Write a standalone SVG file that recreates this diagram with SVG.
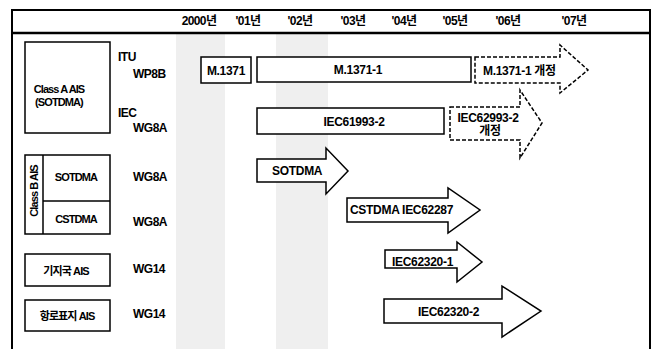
<svg xmlns="http://www.w3.org/2000/svg" width="654" height="349" viewBox="0 0 654 349">
<style>
  .frame{fill:none;stroke:#000;stroke-width:2}
  .box{fill:#fff;stroke:#000;stroke-width:1.5}
  .dash{fill:#fff;stroke:#000;stroke-width:1.5;stroke-dasharray:4 2}
  .band{fill:#efefef}
  text{font-family:"Liberation Sans","Noto Sans CJK KR",Arial,sans-serif;font-weight:bold;fill:#000}
  .yr{font-size:12px;text-anchor:middle;letter-spacing:-0.6px}
  .lb{font-size:12px;letter-spacing:-0.3px}
  .sm{font-size:11px;text-anchor:middle;letter-spacing:-0.9px}
  .wg{font-size:12px;letter-spacing:-0.5px}
  .mid{text-anchor:middle}
</style>
<rect x="0" y="0" width="654" height="349" fill="#fff"/>
<g id="bands">
  <rect class="band" x="176" y="34" width="49" height="315"/>
  <rect class="band" x="276" y="34" width="52" height="315"/>
</g>
<g id="frame">
  <path class="frame" d="M12,349 V10 H650 V349"/>
  <line x1="12" y1="33" x2="650" y2="33" stroke="#000" stroke-width="2.5"/>
</g>
<g id="header">
  <text class="yr" x="199" y="25">2000년</text>
  <text class="yr" x="248" y="25">'01년</text>
  <text class="yr" x="300" y="25">'02년</text>
  <text class="yr" x="353" y="25">'03년</text>
  <text class="yr" x="404" y="25">'04년</text>
  <text class="yr" x="455" y="25">'05년</text>
  <text class="yr" x="508" y="25">'06년</text>
  <text class="yr" x="574" y="25">'07년</text>
</g>
<g id="classA">
  <rect class="box" x="25" y="42" width="85" height="91"/>
  <text class="sm" x="59" y="93">Class A AIS</text>
  <text class="sm" x="59" y="106">(SOTDMA)</text>
</g>
<g id="classB">
  <rect class="box" x="25" y="155" width="85" height="79"/>
  <line x1="43" y1="155" x2="43" y2="234" stroke="#000" stroke-width="1.5"/>
  <line x1="43" y1="201" x2="110" y2="201" stroke="#000" stroke-width="1.5"/>
  <text class="sm" transform="translate(38,191) rotate(-90)">Class B AIS</text>
  <text class="sm" x="76" y="181">SOTDMA</text>
  <text class="sm" x="76" y="223">CSTDMA</text>
</g>
<g id="basestation">
  <rect class="box" x="25" y="254" width="85" height="32"/>
  <text class="sm" x="66" y="275">기지국 AIS</text>
</g>
<g id="aton">
  <rect class="box" x="25" y="300" width="85" height="31"/>
  <text class="sm" x="67" y="320">항로표지 AIS</text>
</g>
<g id="groups">
  <text class="wg" x="118" y="61">ITU</text>
  <text class="wg" x="133" y="78">WP8B</text>
  <text class="wg" x="118" y="117">IEC</text>
  <text class="wg" x="133" y="132">WG8A</text>
  <text class="wg" x="133" y="181">WG8A</text>
  <text class="wg" x="133" y="226">WG8A</text>
  <text class="wg" x="133" y="273">WG14</text>
  <text class="wg" x="133" y="318">WG14</text>
</g>
<g id="m1371">
  <rect class="box" x="201" y="57" width="50" height="26"/>
  <text class="lb mid" x="226" y="75">M.1371</text>
</g>
<g id="m1371-1">
  <rect class="box" x="257" y="57" width="214" height="25"/>
  <text class="lb mid" x="358" y="74">M.1371-1</text>
</g>
<g id="m1371-1-rev">
  <polygon class="dash" points="475,57 560,57 560,45 588,70 560,93 560,83 475,83"/>
  <text class="lb" x="483" y="75">M.1371-1 개정</text>
</g>
<g id="iec61993">
  <rect class="box" x="257" y="108" width="187" height="26"/>
  <text class="lb mid" x="354" y="126">IEC61993-2</text>
</g>
<g id="iec61993-rev">
  <polygon class="dash" points="450,107 520,107 520,90 542,123 520,158 520,140 450,140"/>
  <text class="lb mid" x="488" y="122">IEC62993-2</text>
  <text class="lb mid" x="490" y="135">개정</text>
</g>
<g id="sotdma">
  <polygon class="box" points="257,159 326,159 326,148 348,171 326,194 326,182 257,182"/>
  <text class="lb" x="272" y="175">SOTDMA</text>
</g>
<g id="cstdma">
  <polygon class="box" points="347,198 448,198 448,188 480,210 448,233 448,222 347,222"/>
  <text class="lb" x="350" y="214">CSTDMA  IEC62287</text>
</g>
<g id="iec62320-1">
  <polygon class="box" points="385,250 457,250 457,242 482,262 457,282 457,268 385,268"/>
  <text class="lb" x="392" y="266">IEC62320-1</text>
</g>
<g id="iec62320-2">
  <polygon class="box" points="384,299 502,299 502,286 541,311 502,337 502,323 384,323"/>
  <text class="lb" x="418" y="316">IEC62320-2</text>
</g>
</svg>
